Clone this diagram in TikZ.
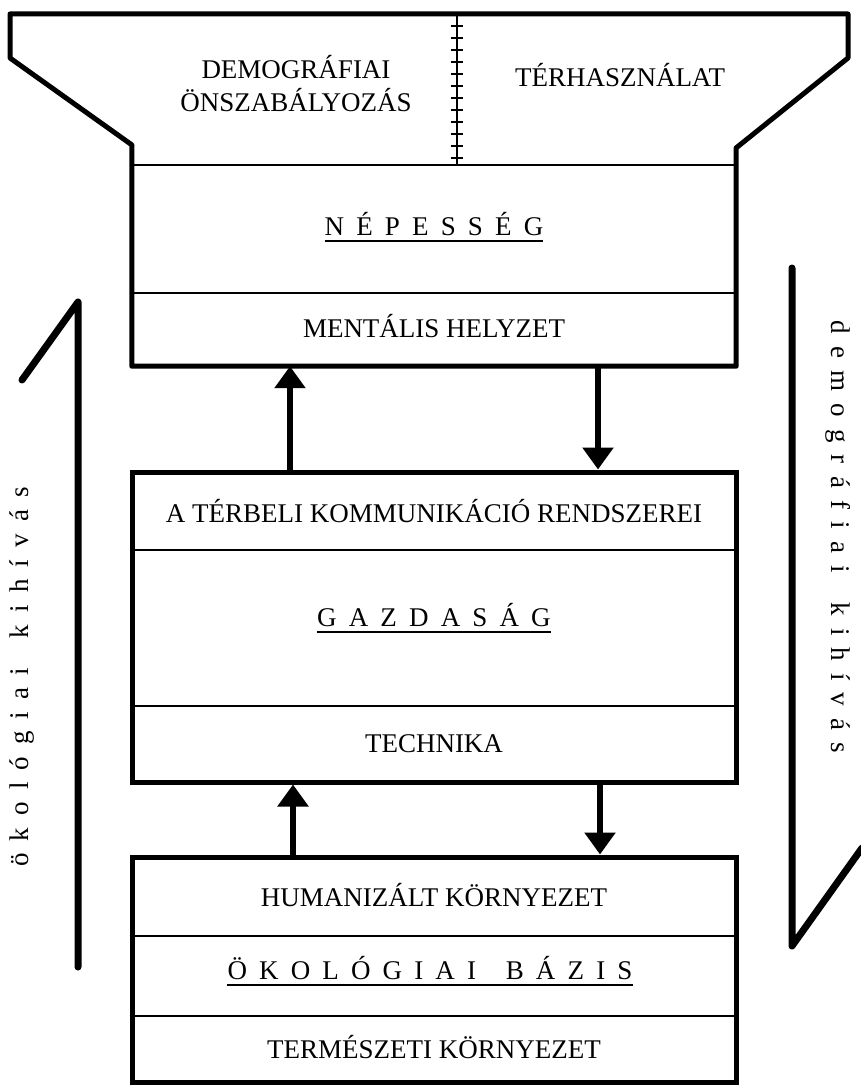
\documentclass[tikz,border=0pt]{standalone}
\usepackage{fontspec}
\setmainfont{Liberation Serif}
\usetikzlibrary{arrows.meta}
\newcommand{\lsp}{\hspace{0.45em}}
\newcommand{\wsp}{\hspace{1.1em}}

\begin{document}
\begin{tikzpicture}[x=1pt,y=-1pt]
        \tikzstyle{every node}=[font=\fontsize{27}{31}\selectfont,inner sep=0pt]
        \tikzstyle{box}=[draw,line width=5pt,minimum width=604pt]
        \tikzstyle{rule}=[line width=1.6pt]
        \tikzstyle{link}=[line width=6pt,-{Triangle[width=30pt,length=22pt]}]
        \tikzstyle{challenge}=[line width=7pt,line cap=round,line join=round]
        \useasboundingbox (0,0) rectangle (860,1089);
        % boxes
        \node[minimum width=604pt,minimum height=201pt] (nep) at (434,265.5) {};
        \node[box,minimum height=310pt] (gaz) at (434,627) {};
        \node[box,minimum height=225pt] (oko) at (434,969.5) {};
        % funnel on top of the first box
        \draw[line width=5pt,line join=round] (nep.south west) -- (nep.north west) -- (132,145) -- (10,58) -- (10,14) -- (848,14) -- (848,58) -- (736,148) -- (nep.north east) -- (nep.south east) -- cycle;
        \draw[rule] (nep.north west) -- (nep.north east);
        \coordinate (div) at (457,14);
        \draw[line width=1.4pt] (div) -- (div |- nep.north);
        \foreach \y in {26,38,...,158} \draw[line width=1.2pt] (451,\y) -- (463,\y);
        \node[anchor=base] (dem) at (296,79) {DEMOGRÁFIAI};
        \node[anchor=base] (onsz) at (296,112) {ÖNSZABÁLYOZÁS};
        \node[anchor=base] (ter) at (620,87) {TÉRHASZNÁLAT};
        % population
        \node[anchor=base] (nept) at (434,235) {N\lsp É\lsp P\lsp E\lsp S\lsp S\lsp É\lsp G};
        \draw[line width=1.8pt] ([yshift=-6pt]nept.base west) -- ([yshift=-6pt]nept.base east);
        \draw[rule] (nep.west |- 0,293) -- (nep.east |- 0,293);
        \node[anchor=base] (ment) at (434,337) {MENTÁLIS HELYZET};
        % economy
        \node[anchor=base] (komm) at (434,522) {A TÉRBELI KOMMUNIKÁCIÓ RENDSZEREI};
        \draw[rule] (gaz.west |- 0,550) -- (gaz.east |- 0,550);
        \node[anchor=base] (gazt) at (434,626) {G\lsp A\lsp Z\lsp D\lsp A\lsp S\lsp Á\lsp G};
        \draw[line width=1.8pt] ([yshift=-6pt]gazt.base west) -- ([yshift=-6pt]gazt.base east);
        \draw[rule,line width=2pt] (gaz.west |- 0,706) -- (gaz.east |- 0,706);
        \node[anchor=base] (tech) at (434,752) {TECHNIKA};
        % ecological base
        \node[anchor=base] (hum) at (434,906) {HUMANIZÁLT KÖRNYEZET};
        \draw[rule] (oko.west |- 0,936) -- (oko.east |- 0,936);
        \node[anchor=base] (okot) at (430,979) {Ö\lsp K\lsp O\lsp L\lsp Ó\lsp G\lsp I\lsp A\lsp I\wsp B\lsp Á\lsp Z\lsp I\lsp S};
        \draw[line width=1.8pt] ([yshift=-6pt]okot.base west) -- ([yshift=-6pt]okot.base east);
        \draw[rule,line width=2pt] (oko.west |- 0,1016) -- (oko.east |- 0,1016);
        \node[anchor=base] (term) at (434,1058) {TERMÉSZETI KÖRNYEZET};
        % links between the levels
        \draw[link] ([xshift=-144pt]gaz.north) -- ([xshift=-144pt]nep.south);
        \draw[link] ([xshift=164pt]nep.south) -- ([xshift=164pt]gaz.north);
        \draw[link] ([xshift=-141pt]oko.north) -- ([xshift=-141pt]gaz.south);
        \draw[link] ([xshift=166pt]gaz.south) -- ([xshift=166pt]oko.north);
        % challenges at the sides
        \coordinate (l1) at (78,967);
        \coordinate (l2) at (78,302);
        \coordinate (l3) at (22,380);
        \draw[challenge] (l1) -- (l2) -- (l3);
        \coordinate (r1) at (792,268);
        \coordinate (r2) at (792,946);
        \coordinate (r3) at (862,848);
        \draw[challenge] (r1) -- (r2) -- (r3);
        \node[rotate=90] (eko) at (22,677) {ö\lsp k\lsp o\lsp l\lsp ó\lsp g\lsp i\lsp a\lsp i\wsp k\lsp i\lsp h\lsp í\lsp v\lsp á\lsp s};
        \node[rotate=-90] (demo) at (838,537) {d\lsp e\lsp m\lsp o\lsp g\lsp r\lsp á\lsp f\lsp i\lsp a\lsp i\wsp k\lsp i\lsp h\lsp í\lsp v\lsp á\lsp s};
\end{tikzpicture}
\end{document}
